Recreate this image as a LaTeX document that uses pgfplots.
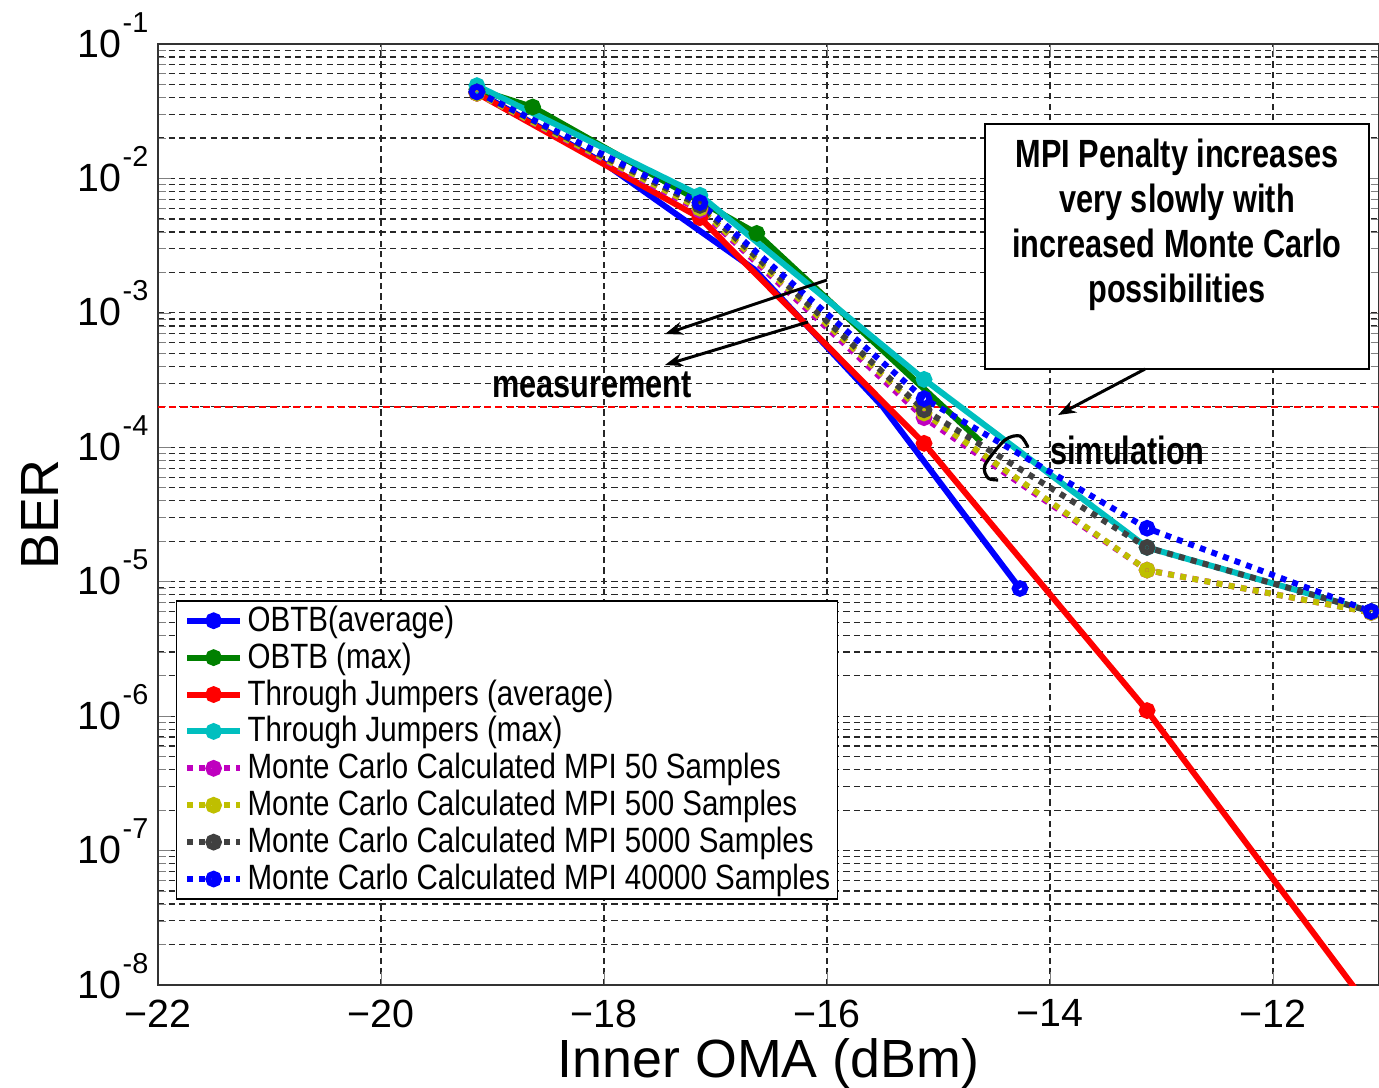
\documentclass[border=0pt]{standalone}
\usepackage{fontspec}
\setmainfont{Liberation Sans}
\newfontfamily\legfont{Liberation Sans}[FakeStretch=0.84]
\newfontfamily\annfont{Liberation Sans}[FakeStretch=0.78]
\usepackage{pgfplots}
\pgfplotsset{compat=1.18}
\usetikzlibrary{arrows.meta}

\definecolor{mgreen}{rgb}{0,0.5,0}
\definecolor{mcyan}{rgb}{0,0.75,0.75}
\definecolor{mmag}{rgb}{0.75,0,0.75}
\definecolor{myel}{rgb}{0.75,0.75,0}
\definecolor{mgray}{rgb}{0.25,0.25,0.25}

\newcommand{\tp}[1]{10\hspace{0.15mm}\raisebox{2.5mm}{\fontsize{8.2}{9}\selectfont -#1}}

\pgfplotsset{
  solidline/.style={line width=1.7pt, mark=o, mark size=1.5pt, mark options={solid, line width=1.7pt}},
  dotline/.style={line width=1.7pt, dash pattern=on 1.7pt off 1.8pt, mark=o, mark size=1.5pt, mark options={solid, line width=1.7pt}},
}

\begin{document}
\begin{tikzpicture}
\begin{axis}[
  name=ax,
  scale only axis,
  width=122.1mm, height=94.1mm,
  xmin=-22, xmax=-11.05,
  ymode=log, ymin=1e-8, ymax=1e-1,
  xtick={-22,-20,-18,-16,-14,-12},
  xticklabels={−22,−20,−18,−16,−14,−12},
  ytick={1e-8,1e-7,1e-6,1e-5,1e-4,1e-3,1e-2,1e-1},
  yticklabels={\tp{8},\tp{7},\tp{6},\tp{5},\tp{4},\tp{3},\tp{2},\tp{1}},
  minor ytick={2e-8,3e-8,4e-8,5e-8,6e-8,7e-8,8e-8,9e-8,
               2e-7,3e-7,4e-7,5e-7,6e-7,7e-7,8e-7,9e-7,
               2e-6,3e-6,4e-6,5e-6,6e-6,7e-6,8e-6,9e-6,
               2e-5,3e-5,4e-5,5e-5,6e-5,7e-5,8e-5,9e-5,
               2e-4,3e-4,4e-4,5e-4,6e-4,7e-4,8e-4,9e-4,
               2e-3,3e-3,4e-3,5e-3,6e-3,7e-3,8e-3,9e-3,
               2e-2,3e-2,4e-2,5e-2,6e-2,7e-2,8e-2,9e-2},
  xmajorgrids, ymajorgrids, yminorgrids,
  grid style={black!85, line width=0.35pt, dash pattern=on 1.8pt off 1.2pt},
  tick align=inside,
  major tick length=1.3mm, minor tick length=0.8mm,
  axis line style={black!80, line width=0.5pt},
  tick label style={font=\fontsize{11.2}{12}\selectfont},
  xticklabel style={anchor=north, inner sep=0pt, yshift=-1.4mm},
  yticklabel style={anchor=base east, inner sep=0pt, xshift=-0.9mm, yshift=-1.3mm},
  xlabel={Inner OMA (dBm)}, ylabel={BER},
  label style={font=\fontsize{15.3}{16}\selectfont},
  xlabel style={at={(axis description cs:0.5,-0.0988)}, anchor=base, inner sep=0pt},
  ylabel style={at={(axis description cs:-0.0819,0.5)}, anchor=base, inner sep=0pt},
  legend cell align=left,
  legend style={at={(0.0147,0.409)}, anchor=north west, draw=black, fill=white,
    font=\legfont\fontsize{10}{12}\selectfont,
    inner xsep=0.75mm, inner ysep=0.3mm, row sep=0.9pt, column sep=0.45mm,
    nodes={inner sep=0pt, text height=7.8pt, text depth=1.8pt}},
  legend image code/.code={\draw[#1, mark indices={2}] plot coordinates {(0mm,0mm) (2.65mm,0mm) (5.3mm,0mm)};},
]
\addplot[red, line width=0.4pt, dash pattern=on 2pt off 1.2pt, forget plot]
  coordinates {(-22,2e-4) (-11.05,2e-4)};

\addplot[blue, solidline, mark indices={1,5}] coordinates {
  (-19.14,4.4e-2) (-18.0,1.3e-2) (-16.65,2.1e-3) (-15.5,2.0e-4) (-14.27,8.9e-6)};
\addlegendentry{OBTB(average)}
\addplot[mgreen, solidline, mark indices={1,2,3}] coordinates {
  (-19.14,4.6e-2) (-18.64,3.4e-2) (-16.63,3.9e-3) (-14.62,1.1e-4)};
\addlegendentry{OBTB (max)}
\addplot[red, solidline, mark indices={1,2,3,4}] coordinates {
  (-19.14,4.3e-2) (-17.14,5.1e-3) (-15.13,1.07e-4) (-13.13,1.1e-6) (-11.12,6.5e-9)};
\addlegendentry{Through Jumpers (average)}
\addplot[mcyan, solidline] coordinates {
  (-19.14,4.9e-2) (-17.14,7.5e-3) (-15.13,3.2e-4) (-13.13,1.8e-5) (-11.12,6.0e-6)};
\addlegendentry{Through Jumpers (max)}
\addplot[mmag, dotline] coordinates {
  (-19.14,4.3e-2) (-17.14,5.8e-3) (-15.13,1.66e-4) (-13.13,1.22e-5) (-11.12,5.9e-6)};
\addlegendentry{Monte Carlo Calculated MPI 50 Samples}
\addplot[myel, dotline] coordinates {
  (-19.14,4.3e-2) (-17.14,6.0e-3) (-15.13,1.8e-4) (-13.13,1.22e-5) (-11.12,5.9e-6)};
\addlegendentry{Monte Carlo Calculated MPI 500 Samples}
\addplot[mgray, dotline] coordinates {
  (-19.14,4.4e-2) (-17.14,6.3e-3) (-15.13,1.9e-4) (-13.13,1.8e-5) (-11.12,6.0e-6)};
\addlegendentry{Monte Carlo Calculated MPI 5000 Samples}
\addplot[blue, dotline] coordinates {
  (-19.14,4.4e-2) (-17.14,6.6e-3) (-15.13,2.3e-4) (-13.13,2.5e-5) (-11.12,6.0e-6)};
\addlegendentry{Monte Carlo Calculated MPI 40000 Samples}

% annotations
\draw[black, line width=0.8pt, fill=white] (rel axis cs:0.6773,0.915) rectangle (rel axis cs:0.9918,0.6546);
\node[font=\annfont\bfseries\fontsize{11.2}{12.8}\selectfont, align=center, inner sep=0pt]
  at (rel axis cs:0.8346,0.808) {MPI Penalty increases\\very slowly with\\increased Monte Carlo\\possibilities};
\draw[line width=0.85pt, -{Stealth[length=1.8mm, width=1.3mm]}] (rel axis cs:0.8084,0.6546) -- (rel axis cs:0.7371,0.6057);
\draw[line width=0.85pt, -{Stealth[length=1.8mm, width=1.3mm]}] (rel axis cs:0.5479,0.7492) -- (rel axis cs:0.4152,0.6918);
\draw[line width=0.85pt, -{Stealth[length=1.8mm, width=1.3mm]}] (rel axis cs:0.5324,0.7046) -- (rel axis cs:0.4152,0.6589);
\node[font=\annfont\bfseries\fontsize{11.2}{12.8}\selectfont, inner sep=0pt] at (rel axis cs:0.3554,0.6376) {measurement};
\node[font=\annfont\bfseries\fontsize{11.2}{12.8}\selectfont, inner sep=0pt] at (rel axis cs:0.7936,0.5685) {simulation};
\draw[line width=0.9pt] plot[smooth] coordinates {(rel axis cs:0.7125,0.5717) (rel axis cs:0.7060,0.5834) (rel axis cs:0.6937,0.5792) (rel axis cs:0.6773,0.5526) (rel axis cs:0.6798,0.5388) (rel axis cs:0.6880,0.5367)};
\end{axis}
\pgfresetboundingbox
\path[use as bounding box] ([shift={(-15.8mm,-10.3mm)}]ax.south west) rectangle ([shift={(0mm,4.4mm)}]ax.north east);
\end{tikzpicture}
\end{document}
